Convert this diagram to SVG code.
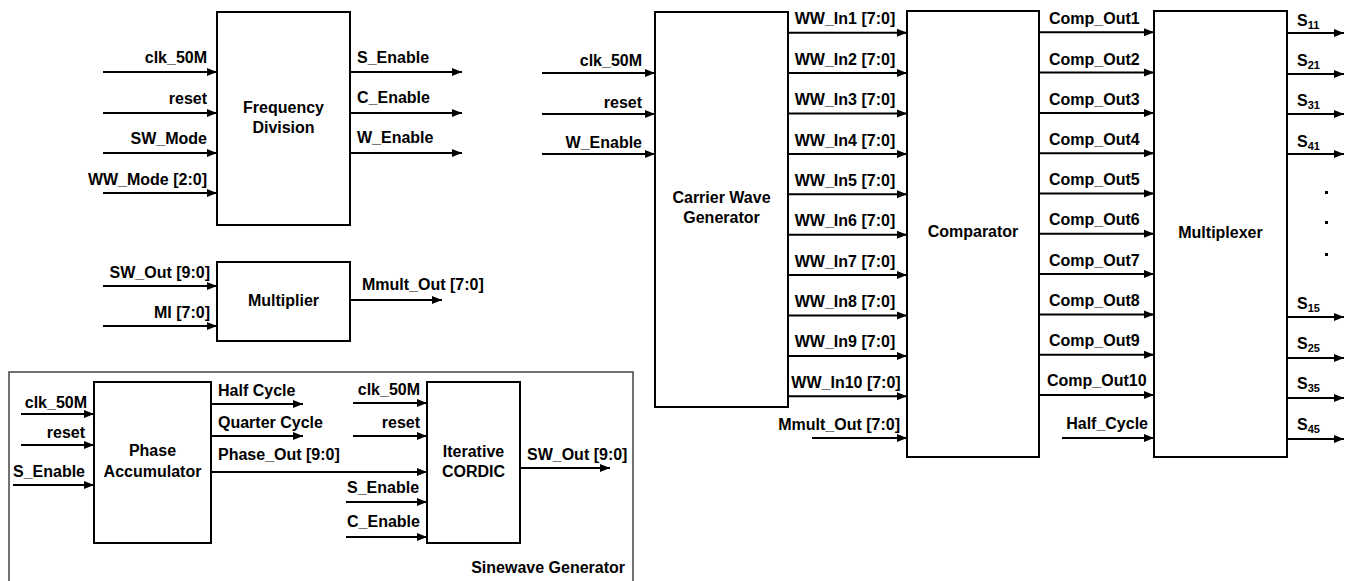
<svg xmlns="http://www.w3.org/2000/svg" width="1352" height="581" viewBox="0 0 1352 581">
<style>
text{font-family:"Liberation Sans",Arial,sans-serif;font-size:16px;font-weight:bold;fill:#000}
.c{text-anchor:middle}
.e{text-anchor:end}
.box{fill:#fff;stroke:#000;stroke-width:2}
.frame{fill:none;stroke:#444;stroke-width:1.5}
.w{stroke:#000;stroke-width:2;fill:none;marker-end:url(#ah)}
.sub{font-size:11px}
</style>
<defs>
<marker id="ah" markerUnits="userSpaceOnUse" markerWidth="11" markerHeight="9" refX="10" refY="4.5" orient="auto">
<path d="M0,0.5 L10,4.5 L0,8.5 z" fill="#000"/>
</marker>
</defs>
<rect fill="#fff" x="0" y="0" width="1352" height="581"/>

<g id="sinewave-frame">
<rect class="frame" x="9" y="372" width="624" height="215"/>
<text class="e" x="625" y="573">Sinewave Generator</text>
</g>

<g id="freq-div">
<rect class="box" x="217" y="12" width="133" height="213"/>
<text class="c" x="283.5" y="113">Frequency</text>
<text class="c" x="283.5" y="133">Division</text>
</g>
<g id="multiplier">
<rect class="box" x="217" y="262" width="133" height="79"/>
<text class="c" x="283.5" y="306">Multiplier</text>
</g>
<g id="phase-acc">
<rect class="box" x="94" y="382" width="117" height="161"/>
<text class="c" x="152.5" y="456">Phase</text>
<text class="c" x="152.5" y="477">Accumulator</text>
</g>
<g id="cordic">
<rect class="box" x="427" y="382" width="93" height="161"/>
<text class="c" x="473.5" y="457">Iterative</text>
<text class="c" x="473.5" y="477">CORDIC</text>
</g>
<g id="carrier">
<rect class="box" x="655" y="12" width="133" height="395"/>
<text class="c" x="721.5" y="203">Carrier Wave</text>
<text class="c" x="721.5" y="223">Generator</text>
</g>
<g id="comparator">
<rect class="box" x="907" y="11" width="132" height="446"/>
<text class="c" x="973" y="237">Comparator</text>
</g>
<g id="multiplexer">
<rect class="box" x="1154" y="11" width="133" height="446"/>
<text class="c" x="1220.5" y="238">Multiplexer</text>
</g>

<g id="connectors">
<!-- Frequency Division -->
<line class="w" x1="103" y1="72" x2="217" y2="72"/><text class="e" x="207" y="63">clk_50M</text>
<line class="w" x1="103" y1="113" x2="217" y2="113"/><text class="e" x="207" y="104">reset</text>
<line class="w" x1="103" y1="153" x2="217" y2="153"/><text class="e" x="207" y="144">SW_Mode</text>
<line class="w" x1="103" y1="193" x2="217" y2="193"/><text class="e" x="207" y="185">WW_Mode [2:0]</text>
<line class="w" x1="350" y1="72" x2="462" y2="72"/><text x="357" y="63">S_Enable</text>
<line class="w" x1="350" y1="113" x2="462" y2="113"/><text x="357" y="103">C_Enable</text>
<line class="w" x1="350" y1="153" x2="462" y2="153"/><text x="357" y="143">W_Enable</text>
<!-- Multiplier -->
<line class="w" x1="103" y1="286" x2="217" y2="286"/><text class="e" x="210" y="278">SW_Out [9:0]</text>
<line class="w" x1="103" y1="326" x2="217" y2="326"/><text class="e" x="210" y="318">MI [7:0]</text>
<line class="w" x1="350" y1="300" x2="442" y2="300"/><text x="362" y="290">Mmult_Out [7:0]</text>
<!-- Phase Accumulator -->
<line class="w" x1="21" y1="414" x2="94" y2="414"/><text class="e" x="87" y="408">clk_50M</text>
<line class="w" x1="21" y1="445" x2="94" y2="445"/><text class="e" x="85" y="438">reset</text>
<line class="w" x1="13" y1="485" x2="94" y2="485"/><text class="e" x="85" y="477">S_Enable</text>
<line class="w" x1="211" y1="404" x2="303" y2="404"/><text x="218" y="396">Half Cycle</text>
<line class="w" x1="211" y1="436" x2="303" y2="436"/><text x="218" y="428">Quarter Cycle</text>
<line class="w" x1="211" y1="472" x2="427" y2="472"/><text x="218" y="460">Phase_Out [9:0]</text>
<!-- CORDIC -->
<line class="w" x1="353" y1="403" x2="427" y2="403"/><text class="e" x="420" y="395">clk_50M</text>
<line class="w" x1="353" y1="436" x2="427" y2="436"/><text class="e" x="420" y="428">reset</text>
<line class="w" x1="346" y1="502" x2="427" y2="502"/><text x="347" y="493">S_Enable</text>
<line class="w" x1="346" y1="537" x2="427" y2="537"/><text x="347" y="527">C_Enable</text>
<line class="w" x1="520" y1="468" x2="610" y2="468"/><text x="527" y="460">SW_Out [9:0]</text>
<!-- Carrier Wave Generator -->
<line class="w" x1="542" y1="73" x2="655" y2="73"/><text class="e" x="642" y="66">clk_50M</text>
<line class="w" x1="542" y1="114" x2="655" y2="114"/><text class="e" x="642" y="108">reset</text>
<line class="w" x1="542" y1="154" x2="655" y2="154"/><text class="e" x="642" y="148">W_Enable</text>
<line class="w" x1="788" y1="32.7" x2="907" y2="32.7"/><text class="c" x="845" y="24">WW_In1 [7:0]</text>
<line class="w" x1="788" y1="73.1" x2="907" y2="73.1"/><text class="c" x="845" y="65">WW_In2 [7:0]</text>
<line class="w" x1="788" y1="113.5" x2="907" y2="113.5"/><text class="c" x="845" y="105">WW_In3 [7:0]</text>
<line class="w" x1="788" y1="153.9" x2="907" y2="153.9"/><text class="c" x="845" y="146">WW_In4 [7:0]</text>
<line class="w" x1="788" y1="194.3" x2="907" y2="194.3"/><text class="c" x="845" y="186">WW_In5 [7:0]</text>
<line class="w" x1="788" y1="234.7" x2="907" y2="234.7"/><text class="c" x="845" y="226">WW_In6 [7:0]</text>
<line class="w" x1="788" y1="275.1" x2="907" y2="275.1"/><text class="c" x="845" y="267">WW_In7 [7:0]</text>
<line class="w" x1="788" y1="315.5" x2="907" y2="315.5"/><text class="c" x="845" y="307">WW_In8 [7:0]</text>
<line class="w" x1="788" y1="355.9" x2="907" y2="355.9"/><text class="c" x="845" y="347">WW_In9 [7:0]</text>
<line class="w" x1="788" y1="396.3" x2="907" y2="396.3"/><text class="c" x="846" y="388">WW_In10 [7:0]</text>
<line class="w" x1="812" y1="438" x2="907" y2="438"/><text class="e" x="900" y="430">Mmult_Out [7:0]</text>
<!-- Comparator -->
<line class="w" x1="1039" y1="32.3" x2="1154" y2="32.3"/><text x="1049" y="24">Comp_Out1</text>
<line class="w" x1="1039" y1="72.6" x2="1154" y2="72.6"/><text x="1049" y="65">Comp_Out2</text>
<line class="w" x1="1039" y1="112.9" x2="1154" y2="112.9"/><text x="1049" y="105">Comp_Out3</text>
<line class="w" x1="1039" y1="153.2" x2="1154" y2="153.2"/><text x="1049" y="145">Comp_Out4</text>
<line class="w" x1="1039" y1="193.5" x2="1154" y2="193.5"/><text x="1049" y="185">Comp_Out5</text>
<line class="w" x1="1039" y1="233.8" x2="1154" y2="233.8"/><text x="1049" y="225">Comp_Out6</text>
<line class="w" x1="1039" y1="274.1" x2="1154" y2="274.1"/><text x="1049" y="266">Comp_Out7</text>
<line class="w" x1="1039" y1="314.4" x2="1154" y2="314.4"/><text x="1049" y="306">Comp_Out8</text>
<line class="w" x1="1039" y1="354.7" x2="1154" y2="354.7"/><text x="1049" y="346">Comp_Out9</text>
<line class="w" x1="1039" y1="395" x2="1154" y2="395"/><text x="1047" y="386">Comp_Out10</text>
<line class="w" x1="1062" y1="438" x2="1154" y2="438"/><text class="e" x="1148" y="429">Half_Cycle</text>
<!-- Multiplexer outputs -->
<line class="w" x1="1287" y1="33" x2="1344" y2="33"/><text x="1297" y="26">S<tspan class="sub" dy="3">11</tspan></text>
<line class="w" x1="1287" y1="74" x2="1344" y2="74"/><text x="1297" y="66">S<tspan class="sub" dy="3">21</tspan></text>
<line class="w" x1="1287" y1="114" x2="1344" y2="114"/><text x="1297" y="106">S<tspan class="sub" dy="3">31</tspan></text>
<line class="w" x1="1287" y1="154" x2="1344" y2="154"/><text x="1297" y="147">S<tspan class="sub" dy="3">41</tspan></text>
<line class="w" x1="1287" y1="317" x2="1344" y2="317"/><text x="1297" y="309">S<tspan class="sub" dy="3">15</tspan></text>
<line class="w" x1="1287" y1="358" x2="1344" y2="358"/><text x="1297" y="349">S<tspan class="sub" dy="3">25</tspan></text>
<line class="w" x1="1287" y1="398" x2="1344" y2="398"/><text x="1297" y="389">S<tspan class="sub" dy="3">35</tspan></text>
<line class="w" x1="1287" y1="439" x2="1344" y2="439"/><text x="1297" y="430">S<tspan class="sub" dy="3">45</tspan></text>
<rect x="1325" y="191" width="3" height="3" fill="#000"/>
<rect x="1325" y="221" width="3" height="3" fill="#000"/>
<rect x="1325" y="253" width="3" height="3" fill="#000"/>
</g>
</svg>
